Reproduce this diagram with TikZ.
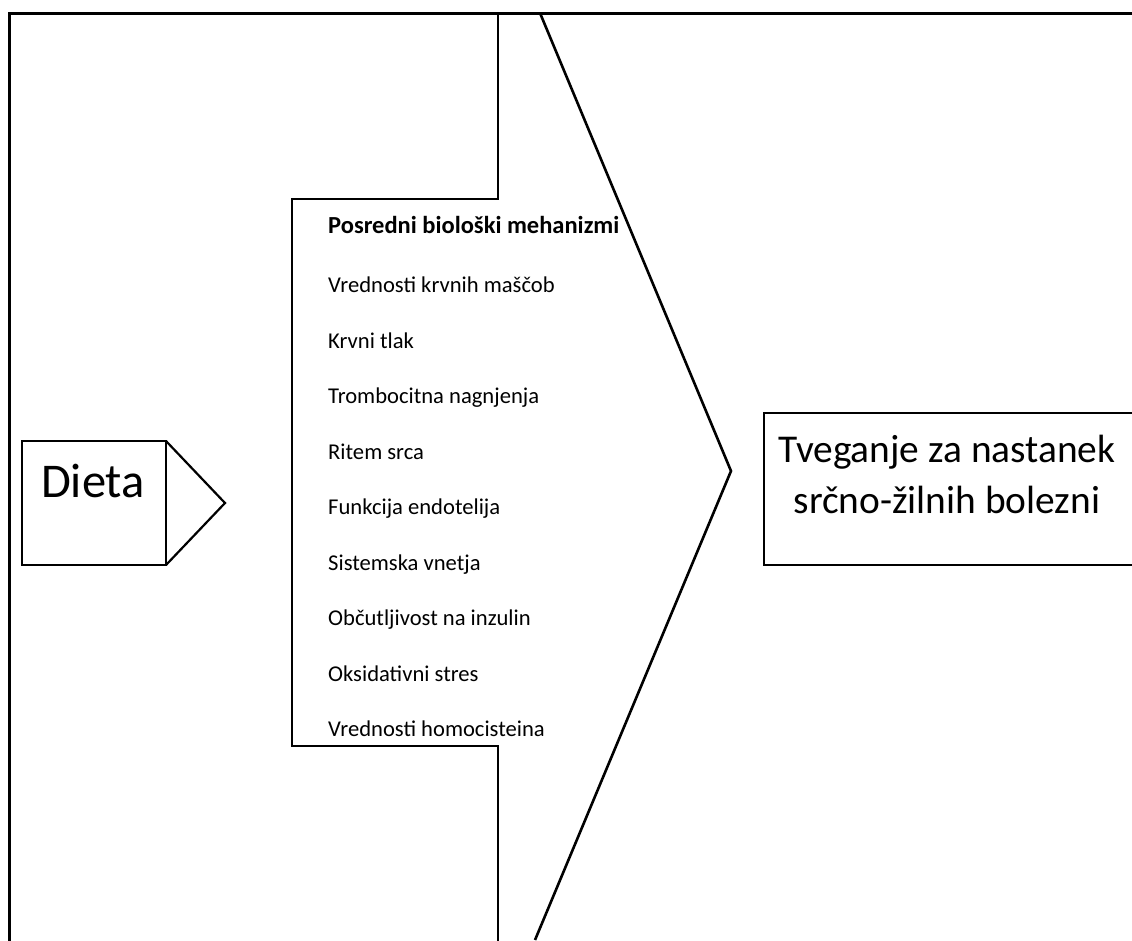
\documentclass[tikz,border=0pt]{standalone}
\usepackage{fontspec}
\setmainfont{Carlito}
\begin{document}
\begin{tikzpicture}[x=1pt,y=-1pt,
  frame/.style={line width=3pt,line cap=rect},
  outline/.style={line width=2.6pt,line join=miter},
  box/.style={line width=2.2pt},
  item/.style={anchor=base west,inner sep=0pt,font=\fontsize{22.6}{26}\selectfont},
  head/.style={item,font=\fontsize{24.5}{28}\selectfont\bfseries}]
\useasboundingbox (0,0) rectangle (1132,940);
% outer frame
\draw[frame] (9,960) -- (9,13) -- (1140,13);
% notched shape
\draw[outline] (498,13) -- (498,199) -- (292,199) -- (292,746) -- (498,746) -- (498,960);
\draw[outline] (540,13) -- (731,471) -- (535,940);
% Dieta
\draw[box] (22,441) rectangle (166,565);
\draw[box,line join=miter] (166,441) -- (225,503) -- (166,565);
\node[font=\fontsize{48.5}{56}\selectfont,inner sep=0pt] (dieta) at (93,481) {Dieta};
% right box
\draw[box] (764,413) rectangle (1140,565);
\node[align=center,font=\fontsize{39.4}{51}\selectfont,inner sep=0pt,anchor=base] (tveg) at (947,513) {Tveganje za nastanek\\srčno-žilnih bolezni};
% list
\node[head] (h) at (328,233) {Posredni biološki mehanizmi};
\node[item] (i1) at (328,292.5) {Vrednosti krvnih maščob};
\node[item] (i2) at (328,348) {Krvni tlak};
\node[item] (i3) at (328,403.5) {Trombocitna nagnjenja};
\node[item] (i4) at (328,459) {Ritem srca};
\node[item] (i5) at (328,514.5) {Funkcija endotelija};
\node[item] (i6) at (328,570) {Sistemska vnetja};
\node[item] (i7) at (328,625.5) {Občutljivost na inzulin};
\node[item] (i8) at (328,681) {Oksidativni stres};
\node[item] (i9) at (328,736.5) {Vrednosti homocisteina};
\end{tikzpicture}
\end{document}
